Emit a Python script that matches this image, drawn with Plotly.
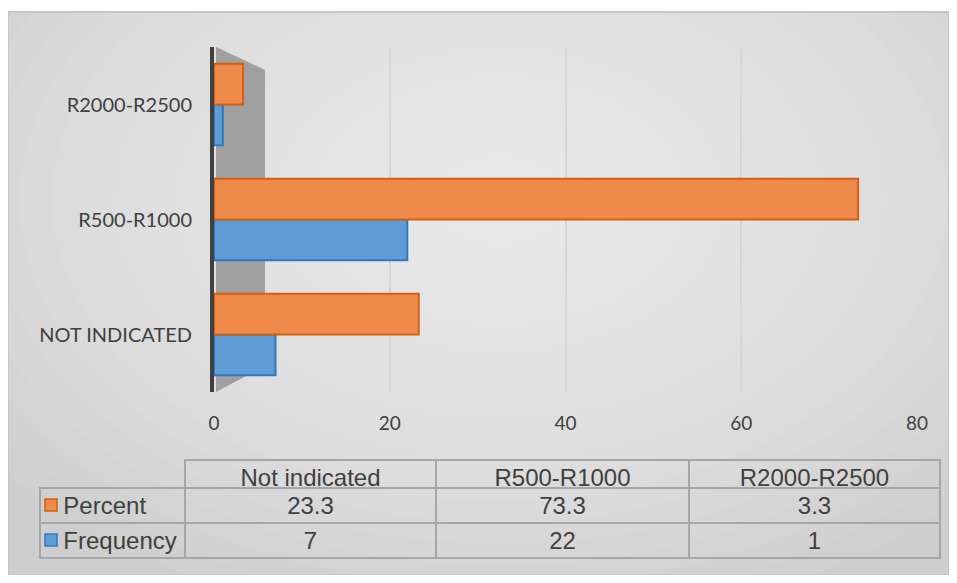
import plotly.graph_objects as go

# data
categories = ["Not indicated", "R500-R1000", "R2000-R2500"]
series_names = ["Percent", "Frequency"]
percent = [23.3, 73.3, 3.3]
frequency = [7, 22, 1]
x_ticks = [0, 20, 40, 60, 80]

C = dict(
    orange="#F08A4B", orange_line="#D2600F",
    blue="#5E9CD3", blue_line="#2F78BE",
    text="#404040", grid="#d6d6d6", border="#a6a6a6",
)

# the page body has an 8px margin, so the figure is drawn 16px smaller
OFF = 8
W, H = 957 - 2 * OFF, 583 - 2 * OFF


def px_x(v):
    return (v - OFF) / W


def px_y(v):
    return 1 - (v - OFF) / H


axis_labels = [c.upper() for c in categories]

fig = go.Figure()
fig.add_trace(go.Bar(
    name="Frequency", y=axis_labels, x=frequency, orientation="h",
    marker=dict(color=C["blue"], line=dict(color=C["blue_line"], width=2)),
    showlegend=False, hoverinfo="x+y",
))
fig.add_trace(go.Bar(
    name="Percent", y=axis_labels, x=percent, orientation="h",
    marker=dict(color=C["orange"], line=dict(color=C["orange_line"], width=2)),
    showlegend=False, hoverinfo="x+y",
))

table_font = dict(family="Liberation Sans, Arial", size=24, color=C["text"])
indent = "\u00a0\u00a0\u200a"
fig.add_trace(go.Table(
    domain=dict(x=[px_x(40), px_x(940)], y=[px_y(560), px_y(460)]),
    columnwidth=[145, 251, 253, 251],
    header=dict(
        values=[""] + categories,
        fill_color="rgba(0,0,0,0)",
        line=dict(color=["rgba(0,0,0,0)"] + [C["border"]] * 3, width=2),
        font=table_font, align="center", height=28,
    ),
    cells=dict(
        values=[
            [indent + n for n in series_names],
            [percent[0], frequency[0]],
            [percent[1], frequency[1]],
            [percent[2], frequency[2]],
        ],
        fill_color="rgba(0,0,0,0)",
        line=dict(color=C["border"], width=2),
        font=table_font,
        align=["left", "center", "center", "center"],
        height=35,
    ),
))

# legend keys inside the data table
for (fill, line), y0 in [((C["orange"], C["orange_line"]), 499),
                         ((C["blue"], C["blue_line"]), 534)]:
    fig.add_shape(type="rect", xref="paper", yref="paper",
                  x0=px_x(45), x1=px_x(57), y0=px_y(y0 + 12), y1=px_y(y0),
                  fillcolor=fill, line=dict(color=line, width=1.5))

# chart area: grey fill, lighter towards the upper middle
fig.add_shape(type="rect", xref="paper", yref="paper", layer="below",
              x0=0, x1=1.0, y0=0, y1=1.0,
              fillcolor="#cecece", line=dict(width=0))
n_glow = 20
for k in range(n_glow):
    s = 1 - k / n_glow
    fig.add_shape(type="circle", xref="paper", yref="paper", layer="below",
                  x0=px_x(500 - 640 * s), x1=px_x(500 + 640 * s),
                  y0=px_y(200 + 430 * s), y1=px_y(200 - 430 * s),
                  fillcolor="white", opacity=0.055, line=dict(width=0))
fig.add_shape(type="rect", xref="paper", yref="paper", layer="below",
              x0=0, x1=1.0, y0=px_y(11), y1=1.0,
              fillcolor="white", line=dict(width=0))
fig.add_shape(type="rect", xref="paper", yref="paper", layer="below",
              x0=0, x1=1.0, y0=0, y1=px_y(12),
              fillcolor="rgba(0,0,0,0)", line=dict(color="#c6c6c6", width=2))
# grey side wall of the 3d plot
fig.add_shape(type="path", xref="paper", yref="paper", layer="below",
              path=f"M {px_x(216)},{px_y(47)} L {px_x(265)},{px_y(70)} "
                   f"L {px_x(265)},{px_y(366)} L {px_x(216)},{px_y(392)} Z",
              fillcolor="#a0a0a0", line=dict(width=0))

fig.update_layout(
    template="none",
    width=W, height=H,
    margin=dict(l=0, r=0, t=0, b=0, autoexpand=False),
    paper_bgcolor="white",
    plot_bgcolor="rgba(0,0,0,0)",
    barmode="group", bargap=0.29, bargroupgap=0,
    font=dict(family="Lato, Open Sans", size=19, color=C["text"]),
    xaxis=dict(
        domain=[px_x(214), px_x(917)], range=[0, 80],
        tickvals=x_ticks, showgrid=True, gridcolor=C["grid"], gridwidth=2,
        zeroline=False, showline=False, ticks="", ticklabelstandoff=18,
        automargin=False, tickfont=dict(size=19, color=C["text"]),
    ),
    yaxis=dict(
        domain=[px_y(392), px_y(47)],
        categoryorder="array", categoryarray=axis_labels,
        showline=True, linecolor="#404040", linewidth=4,
        showgrid=False, ticks="", ticklabelstandoff=14,
        automargin=False, tickfont=dict(size=20, color=C["text"]),
    ),
)

fig.write_html("out.html")
